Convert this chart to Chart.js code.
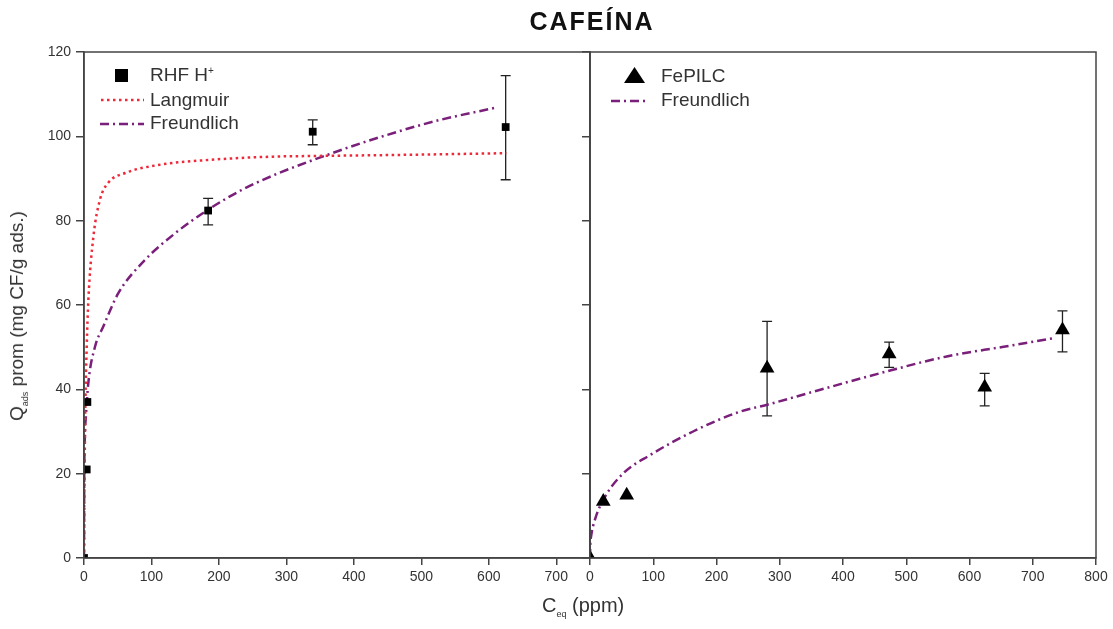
<!DOCTYPE html>
<html>
<head>
<meta charset="utf-8">
<script src="https://cdn.jsdelivr.net/npm/chart.js@4.4.1/dist/chart.umd.min.js"></script>
<style>
  body { margin: 0; background: #fff; font-family: "Liberation Sans", Arial, sans-serif; }
  #wrap { position: relative; width: 1113px; height: 629px; overflow: hidden; }
  canvas { position: absolute; top: 0; }
  #left { left: 0; }
  #right { left: 540px; }
  .txt { position: absolute; color: #333; white-space: nowrap; z-index: 2; }
  #title { left: 0; width: 1184px; top: 7px; text-align: center; font-weight: bold; font-size: 25px; letter-spacing: 2px; color: #111; }
  #xtitle { left: 542px; top: 594px; font-size: 20px; }
  #ytitle { left: 18px; top: 316px; font-size: 19px; transform: translate(-50%, -50%) rotate(-90deg); }
  sub { font-size: 9px; vertical-align: -5px; }
  sup { font-size: 10px; vertical-align: 7px; }
  .leg { font-size: 19px; transform: translateY(-50%); }
  .sym { position: absolute; z-index: 2; }
</style>
</head>
<body>
<div id="wrap">
  <canvas id="left" width="600" height="629"></canvas>
  <canvas id="right" width="573" height="629"></canvas>

  <div id="title" class="txt">CAFEÍNA</div>
  <div id="xtitle" class="txt">C<sub>eq</sub>&nbsp;(ppm)</div>
  <div id="ytitle" class="txt">Q<sub>ads</sub> prom (mg CF/g ads.)</div>

  <!-- left legend -->
  <div class="sym" style="left:115px; top:69px; width:13px; height:13px; background:#000;"></div>
  <div class="txt leg" style="left:150px; top:75px;">RHF H<sup>+</sup></div>
  <svg class="sym" style="left:100px; top:96px;" width="44" height="8"><line x1="1" y1="4" x2="44" y2="4" stroke="#ee2a3a" stroke-width="2.5" stroke-dasharray="2.5 3.5"/></svg>
  <div class="txt leg" style="left:150px; top:100px;">Langmuir</div>
  <svg class="sym" style="left:100px; top:120px;" width="44" height="8"><line x1="0" y1="4" x2="44" y2="4" stroke="#7a1f7a" stroke-width="2.5" stroke-dasharray="9 4 2 4"/></svg>
  <div class="txt leg" style="left:150px; top:123px;">Freundlich</div>

  <!-- right legend -->
  <svg class="sym" style="left:623px; top:66px;" width="23" height="18"><polygon points="11.5,1 22,17 1,17" fill="#000"/></svg>
  <div class="txt leg" style="left:661px; top:76px;">FePILC</div>
  <svg class="sym" style="left:611px; top:97px;" width="38" height="8"><line x1="0" y1="4" x2="38" y2="4" stroke="#7a1f7a" stroke-width="2.5" stroke-dasharray="9 4 2 4"/></svg>
  <div class="txt leg" style="left:661px; top:100px;">Freundlich</div>
</div>

<script>
// --- left panel: RHF H+ ---
const rhfX = [0, 4, 5, 184, 339, 625];
const rhfY = [0, 21, 37, 82.4, 101.1, 102.2];
const rhfErrLow = [0, 21, 37, 79.0, 98.0, 89.7];
const rhfErrHigh = [0, 21, 37, 85.3, 103.9, 114.4];

const langX = [0, 1, 2, 4, 6.4, 13.8, 23.7, 36, 61, 110, 184, 283, 320, 469, 626];
const langY = [0, 22, 36, 50, 61, 76, 85, 89, 91.3, 93.2, 94.4, 95.2, 95.3, 95.6, 96.0];

const freuLX = [0, 0.3, 1, 3, 6.4, 16.3, 28.6, 50.9, 90.5, 135, 184, 234, 283, 333, 419, 518, 610];
const freuLY = [0, 18, 27, 34, 41.5, 50.1, 54.9, 62.8, 70.7, 77.0, 82.6, 87.3, 90.9, 94.0, 98.8, 103.5, 106.8];

// --- right panel: FePILC ---
const pilcX = [0, 21, 58, 280, 473, 624, 747];
const pilcY = [0, 13.4, 14.9, 45.0, 48.4, 40.5, 54.1];
const pilcErrLow = [0, 13.4, 14.9, 33.7, 45.2, 36.1, 48.9];
const pilcErrHigh = [0, 13.4, 14.9, 56.1, 51.2, 43.8, 58.6];

const freuRX = [0, 0.5, 1.6, 7.6, 23.7, 52.7, 94.9, 163, 237, 279, 364, 458, 564, 654, 736];
const freuRY = [0, 3.4, 5.0, 9.0, 14.5, 20.1, 24.4, 30.0, 34.7, 36.3, 39.9, 43.8, 47.8, 50.1, 52.2];

// tick labels
const leftXTicks = [0, 100, 200, 300, 400, 500, 600, 700];
const rightXTicks = [0, 100, 200, 300, 400, 500, 600, 700, 800];
const yTicks = [0, 20, 40, 60, 80, 100, 120];

const RED = "#ee2a3a";
const PURPLE = "#7a1f7a";
const AXIS = "#444";

Chart.defaults.font.family = "'Liberation Sans', Arial, sans-serif";
Chart.defaults.color = "#333";

const pairs = (xs, ys) => xs.map((x, i) => ({ x, y: ys[i] }));

const frameAndErrors = {
  id: "frameAndErrors",
  beforeDatasetsDraw(chart) {
    const { ctx, scales: { x, y } } = chart;
    chart.data.datasets.forEach((ds) => {
      if (!ds.errLow) return;
      ctx.save();
      ctx.strokeStyle = "#222";
      ctx.lineWidth = 1.3;
      ds.data.forEach((pt, i) => {
        const lo = ds.errLow[i];
        const hi = ds.errHigh[i];
        if (lo === hi) return;
        const px = x.getPixelForValue(pt.x);
        const pLo = y.getPixelForValue(lo);
        const pHi = y.getPixelForValue(hi);
        ctx.beginPath();
        ctx.moveTo(px, pLo); ctx.lineTo(px, pHi);
        ctx.moveTo(px - 5, pLo); ctx.lineTo(px + 5, pLo);
        ctx.moveTo(px - 5, pHi); ctx.lineTo(px + 5, pHi);
        ctx.stroke();
      });
      ctx.restore();
    });
  },
  afterDraw(chart) {
    const { ctx, chartArea: a } = chart;
    ctx.save();
    ctx.strokeStyle = AXIS;
    ctx.lineWidth = 1.5;
    ctx.strokeRect(a.left, a.top, a.right - a.left, a.bottom - a.top);
    ctx.restore();
  }
};

function fitLine(data, color, dash) {
  return {
    data, borderColor: color, borderWidth: 2.5, borderDash: dash,
    pointRadius: 0, showLine: true, fill: false, cubicInterpolationMode: "monotone"
  };
}

function axisX(max, tickValues) {
  return {
    type: "linear", min: 0, max,
    ticks: { font: { size: 14 }, padding: 4, color: "#333" },
    afterBuildTicks: (s) => { s.ticks = tickValues.map((v) => ({ value: v })); },
    grid: { drawOnChartArea: false, tickLength: 7, color: AXIS, lineWidth: 1.5 },
    border: { color: AXIS, width: 1.5 },
    afterFit: (s) => { s.height = 71; }
  };
}

function axisY(showLabels, width) {
  return {
    type: "linear", min: 0, max: 120,
    ticks: { display: showLabels, font: { size: 14 }, padding: 5, color: "#333" },
    afterBuildTicks: (s) => { s.ticks = yTicks.map((v) => ({ value: v })); },
    grid: { drawOnChartArea: false, tickLength: 8, color: AXIS, lineWidth: 1.5 },
    border: { color: AXIS, width: 1.5 },
    afterFit: (s) => { s.width = width; }
  };
}

const common = {
  responsive: false,
  animation: false,
  plugins: { legend: { display: false }, tooltip: { enabled: false } }
};

new Chart(document.getElementById("left"), {
  type: "scatter",
  data: {
    datasets: [
      {
        data: pairs(rhfX, rhfY), errLow: rhfErrLow, errHigh: rhfErrHigh,
        pointStyle: "rect", pointRadius: 5.5, backgroundColor: "#000", borderColor: "#000", borderWidth: 0
      },
      fitLine(pairs(langX, langY), RED, [2.5, 3.5]),
      fitLine(pairs(freuLX, freuLY), PURPLE, [9, 4, 2, 4])
    ]
  },
  options: {
    ...common,
    layout: { padding: { top: 52, right: 10, left: 0, bottom: 0 } },
    scales: { x: axisX(750, leftXTicks), y: axisY(true, 84) }
  },
  plugins: [frameAndErrors]
});

new Chart(document.getElementById("right"), {
  type: "scatter",
  data: {
    datasets: [
      {
        data: pairs(pilcX, pilcY), errLow: pilcErrLow, errHigh: pilcErrHigh,
        pointStyle: "triangle", pointRadius: 8.5, backgroundColor: "#000", borderColor: "#000", borderWidth: 0
      },
      fitLine(pairs(freuRX, freuRY), PURPLE, [9, 4, 2, 4])
    ]
  },
  options: {
    ...common,
    layout: { padding: { top: 52, right: 17, left: 0, bottom: 0 } },
    scales: { x: axisX(800, rightXTicks), y: axisY(false, 50) }
  },
  plugins: [frameAndErrors]
});
</script>
</body>
</html>
